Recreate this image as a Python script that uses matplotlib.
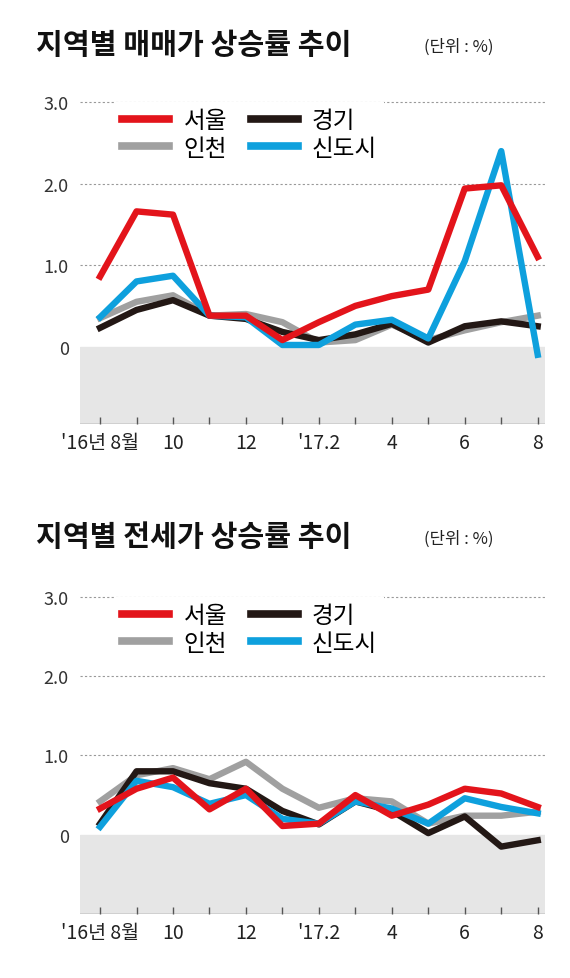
import matplotlib
matplotlib.use("Agg")
import matplotlib.pyplot as plt

plt.rcParams['font.family'] = ['Noto Sans CJK KR', 'DejaVu Sans']

months = list(range(13))
tick_pos = [0, 2, 4, 6, 8, 10, 12]
tick_labels = ["'16년 8월", "10", "12", "'17.2", "4", "6", "8"]

sale_seoul = [0.86, 1.66, 1.62, 0.38, 0.38, 0.08, 0.30, 0.50, 0.62, 0.70, 1.94, 1.98, 1.10]
sale_gg    = [0.23, 0.45, 0.57, 0.38, 0.34, 0.18, 0.08, 0.15, 0.28, 0.05, 0.25, 0.31, 0.25]
sale_ic    = [0.35, 0.55, 0.63, 0.38, 0.40, 0.30, 0.05, 0.08, 0.27, 0.08, 0.20, 0.30, 0.38]
sale_new   = [0.36, 0.80, 0.87, 0.38, 0.36, 0.02, 0.02, 0.27, 0.33, 0.10, 1.05, 2.40, -0.10]

rent_seoul = [0.33, 0.58, 0.72, 0.32, 0.58, 0.11, 0.14, 0.50, 0.24, 0.38, 0.58, 0.52, 0.35]
rent_gg    = [0.14, 0.80, 0.80, 0.65, 0.58, 0.30, 0.13, 0.42, 0.30, 0.02, 0.23, -0.15, -0.07]
rent_ic    = [0.42, 0.75, 0.84, 0.70, 0.92, 0.58, 0.34, 0.46, 0.42, 0.14, 0.24, 0.24, 0.29]
rent_new   = [0.10, 0.68, 0.60, 0.39, 0.50, 0.20, 0.14, 0.42, 0.33, 0.14, 0.46, 0.35, 0.27]

C_SEOUL = '#e3141b'; C_GG = '#231815'; C_IC = '#a0a0a0'; C_NEW = '#0ea0dd'

W, H = 570, 979
fig = plt.figure(figsize=(W/100, H/100), dpi=100)

def make(top, bottom, ymin, title, title_y, data):
    ax = fig.add_axes([80/W, 1-bottom/H, 465/W, (bottom-top)/H])
    ax.set_xlim(-0.55, 12.2)
    ax.set_ylim(ymin, 3.15)
    ax.axhspan(ymin, 0, color='#e6e6e6', zorder=0)
    for v in [1, 2, 3]:
        ax.axhline(v, color='#999999', lw=0.8, ls=(0, (2, 2)), zorder=1)
    seoul, gg, ic, new = data
    lw = 4.6
    l_ic, = ax.plot(months, ic, color=C_IC, lw=lw, zorder=2)
    l_gg, = ax.plot(months, gg, color=C_GG, lw=lw, zorder=3)
    l_new, = ax.plot(months, new, color=C_NEW, lw=lw, zorder=4)
    l_se, = ax.plot(months, seoul, color=C_SEOUL, lw=lw, zorder=5)
    for s in ax.spines.values():
        s.set_visible(False)
    ax.set_yticks([0, 1, 2, 3])
    ax.set_yticklabels(['0', '1.0', '2.0', '3.0'], fontsize=13, color='#333333')
    ax.tick_params(axis='y', length=0, pad=8)
    ax.set_xticks(months)
    ax.set_xticklabels([tick_labels[tick_pos.index(m)] if m in tick_pos else '' for m in months],
                       fontsize=14, color='#222222')
    ax.tick_params(axis='x', length=5, width=1, color='#555555', direction='in', pad=6)
    ax.axhline(ymin, color='#777777', lw=1)
    leg = ax.legend([l_se, l_ic, l_gg, l_new], ['서울', '인천', '경기', '신도시'],
                    ncol=2, loc='upper left', bbox_to_anchor=(0.05, 1.0),
                    fontsize=17, frameon=True, fancybox=False, handlelength=2.0,
                    columnspacing=1.0, handletextpad=0.6, labelspacing=0.2,
                    borderpad=0.3)
    for h in leg.legend_handles:
        h.set_linewidth(5.5)
    leg.get_frame().set_edgecolor('none')
    leg.get_frame().set_facecolor('white')
    leg.get_frame().set_alpha(1)
    leg.set_zorder(10)
    fig.text(36/W, 1-title_y/H, title, fontsize=21, fontweight='heavy', va='center', color='#111111')
    fig.text(424/W, 1-(title_y+2)/H, '(단위 : %)', fontsize=12, va='center', color='#222222')

make(91, 425, -0.95, '지역별 매매가 상승률 추이', 45, (sale_seoul, sale_gg, sale_ic, sale_new))
make(586, 915, -1.0, '지역별 전세가 상승률 추이', 537, (rent_seoul, rent_gg, rent_ic, rent_new))

fig.savefig('out.png', dpi=100)
